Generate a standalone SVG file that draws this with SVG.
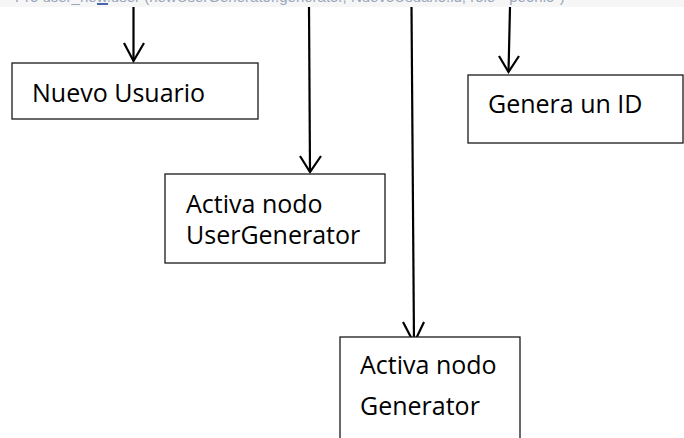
<svg xmlns="http://www.w3.org/2000/svg" width="684" height="438" viewBox="0 0 684 438">
  <style>
    .box { fill: #ffffff; stroke: #1a1a1a; stroke-width: 1.3; }
    .lbl { font-family: "Open Sans", "Liberation Sans", sans-serif; font-size: 25px; fill: #000000; }
    .conn { stroke: #000000; stroke-width: 2.2; fill: none; }
    .head { stroke: #000000; stroke-width: 2.2; fill: none; stroke-linejoin: miter; }
    .code { font-family: "Liberation Sans", sans-serif; font-size: 15px; fill: #9aa6bb; }
  </style>
  <defs>
    <clipPath id="topclip"><rect x="0" y="0" width="684" height="7"/></clipPath>
  </defs>
  <rect x="0" y="0" width="684" height="438" fill="#ffffff"/>
  <g id="code-strip" clip-path="url(#topclip)">
    <rect x="0" y="0" width="684" height="7" fill="#f6f6f6"/>
    <text class="code" x="2" y="2">= Pro  user_new.user (newUserGenerator.generator, NuevoUsuario.id, role="peonlo")</text>
    <rect x="97" y="3" width="11" height="2" fill="#4a64a8"/>
  </g>
  <g id="connectors">
    <line class="conn" x1="133.5" y1="7" x2="133.5" y2="61"/>
    <polyline class="head" points="124,43 133.5,61 144,43"/>
    <line class="conn" x1="309" y1="7" x2="310" y2="172"/>
    <polyline class="head" points="300,156 310,172 321,156"/>
    <line class="conn" x1="411.5" y1="7" x2="414" y2="343"/>
    <polyline class="head" points="403,322 414,343 424,322"/>
    <line class="conn" x1="510" y1="7" x2="508.5" y2="72"/>
    <polyline class="head" points="499,56 508.5,72 519,56"/>
  </g>
  <g id="node-nuevo-usuario">
    <rect class="box" x="12" y="63" width="246" height="56"/>
    <text class="lbl" x="32" y="102">Nuevo Usuario</text>
  </g>
  <g id="node-genera-id">
    <rect class="box" x="468" y="75" width="215" height="68"/>
    <text class="lbl" x="488" y="113">Genera un ID</text>
  </g>
  <g id="node-usergenerator">
    <rect class="box" x="165" y="174" width="220" height="89"/>
    <text class="lbl" x="186" y="213">Activa nodo</text>
    <text class="lbl" x="186" y="244">UserGenerator</text>
  </g>
  <g id="node-generator">
    <rect class="box" x="340" y="337" width="180" height="110"/>
    <text class="lbl" x="360" y="374">Activa nodo</text>
    <text class="lbl" x="360" y="415">Generator</text>
  </g>
</svg>
